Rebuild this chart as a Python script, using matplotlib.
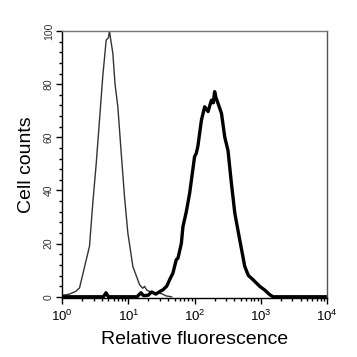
import matplotlib
matplotlib.use("Agg")
import matplotlib.pyplot as plt
import numpy as np
from matplotlib.ticker import LogLocator, MultipleLocator, NullFormatter

plt.rcParams['font.family'] = ['Liberation Sans', 'DejaVu Sans']
plt.rcParams['mathtext.default'] = 'regular'

# control (thin line)
control_x = [1.0, 1.29, 1.6, 1.83, 2.17, 2.59, 2.90, 3.27, 3.67, 4.11, 4.63, 5.0, 5.2, 5.4,
             5.83, 6.3, 6.94, 7.81, 8.75, 9.83, 11.7, 14.8, 16.5, 17.6, 19.0, 20.9,
             25.0, 29.6, 33.0, 37.4, 45.0]
control_y = [0.5, 1.0, 2.0, 3.3, 11.0, 19.0, 35.0, 50.0, 66.5, 83.0, 96.6, 97.5, 100.0, 97.0,
             91.7, 80.0, 71.5, 54.0, 37.7, 24.0, 11.4, 4.5, 3.2, 3.9, 2.5, 2.0,
             1.5, 1.4, 1.0, 0.3, 0.0]

# stained sample (thick line)
stained_x = [1.0, 4.2, 4.6, 5.0, 13.5, 15.5, 17.0, 20.0, 22.5, 26.0, 30.0, 33.3, 38.0,
             42.0, 47.1, 53.0, 56.1, 63.1, 66.8, 75.0, 84.3, 100, 106, 112, 127, 142,
             160, 170, 180, 192, 201, 210, 226, 255, 286, 320, 360, 405, 481, 573,
             650, 765, 966, 1150, 1368, 1535, 10000]
stained_y = [0.0, 0.0, 1.5, 0.0, 0.0, 1.5, 0.4, 0.6, 1.8, 1.0, 2.0, 2.6, 4.0,
             6.4, 8.9, 14.0, 14.5, 20.0, 26.4, 32.0, 39.0, 52.7, 54.0, 56.5, 66.5, 71.5,
             69.7, 72.0, 74.0, 73.0, 77.2, 75.0, 72.8, 69.0, 60.0, 55.0, 42.7, 31.5, 21.4, 11.4,
             8.0, 6.4, 3.9, 2.5, 0.75, 0.0, 0.0]

fig = plt.figure(figsize=(3.57, 3.57), dpi=100)
ax = fig.add_axes([0.174, 0.165, 0.742, 0.748])

ax.plot(control_x, control_y, color='#333333', lw=1.0)
ax.plot(stained_x, stained_y, color='black', lw=2.4)

ax.set_xscale('log')
ax.set_xlim(1, 1e4)
ax.set_ylim(-0.5, 100)

ax.xaxis.set_major_locator(LogLocator(base=10, numticks=10))
ax.xaxis.set_minor_locator(LogLocator(base=10, subs=np.arange(2, 10), numticks=10))
ax.xaxis.set_minor_formatter(NullFormatter())
ax.yaxis.set_major_locator(MultipleLocator(20))
ax.yaxis.set_minor_locator(MultipleLocator(4))

ax.tick_params(axis='both', which='major', direction='out', length=4, width=1, labelsize=9.5)
ax.tick_params(axis='both', which='minor', direction='out', length=2.5, width=1)
ax.tick_params(axis='y', labelsize=7.5, pad=2, labelcolor='#333333')
for lab in ax.get_yticklabels():
    lab.set_rotation(90)
    lab.set_va('center')

for s in ax.spines.values():
    s.set_linewidth(1)
ax.spines['top'].set_color('#777777')
ax.spines['right'].set_color('#555555')

ax.set_xlabel('Relative fluorescence', fontsize=14, labelpad=5)
ax.set_ylabel('Cell counts', fontsize=14, labelpad=6)

fig.savefig('out.png', dpi=100)
